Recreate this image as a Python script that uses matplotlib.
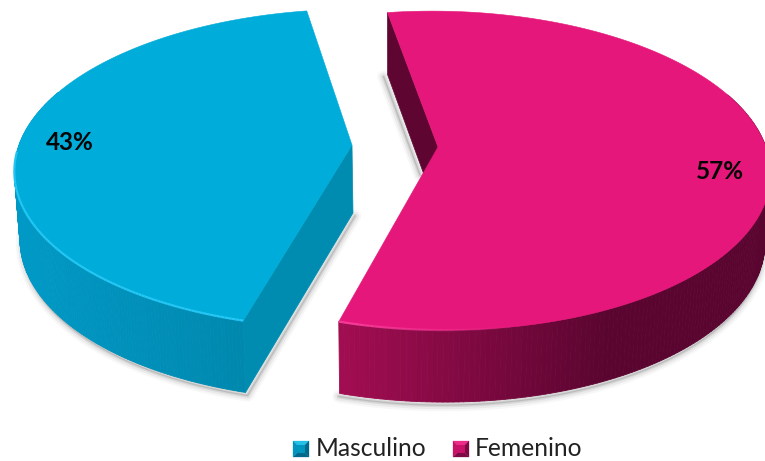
import numpy as np
import matplotlib
matplotlib.use("Agg")
import matplotlib.pyplot as plt
from matplotlib.patches import Polygon, Rectangle
from matplotlib.collections import PolyCollection, LineCollection
from matplotlib.colors import to_rgb

categories = ["Masculino", "Femenino"]
shares = [43, 57]
value_labels = ["43%", "57%"]

plt.rcParams["font.family"] = ["Lato", "DejaVu Sans"]
W, H = 765, 461
fig = plt.figure(figsize=(W / 100, H / 100), dpi=100)
ax = fig.add_axes([0, 0, 1, 1])
ax.set_xlim(0, W)
ax.set_ylim(H, 0)
ax.axis("off")

# projection of the tilted pie
XC, P = 393.0, 0.148
START_F, START_M = -9.0, -10.0
def project(theta, ox, ay, r):
    t = np.radians(theta)
    x, y = np.sin(t), -np.cos(t)
    w = 1 - P * y
    return XC + (ox + r * x) / w, ay + 156 * y / w, y
def drop(x, y, yw):
    return XC + (x - XC) * 0.985, y + 67 + 5 * yw
def mix(a, b, f):
    a, b = np.array(to_rgb(a)), np.array(to_rgb(b))
    return tuple(a + (b - a) * np.clip(f, 0, 1))

def shadow(pts, dx, dy):
    pts = np.asarray(pts) + [dx, dy]
    for lw, a in [(9, .03), (6, .05), (3, .08), (1, .12)]:
        ax.plot(pts[:, 0], pts[:, 1], color="black", alpha=a, lw=lw, zorder=1, solid_capstyle="round")

def wedge(t0, t1, ox, ay, r, top, rim, side_l, side_r, xl, xr, wall, back_wall, rim_fade):
    th = np.linspace(t0, t1, 260)
    x, y, yw = project(th, ox, ay, r)
    bx, by = drop(x, y, yw)
    apex = np.array([XC + ox, ay])
    mask = yw > -0.35
    b0 = drop(x[0], y[0], yw[0])
    if back_wall:
        shadow(np.c_[bx[mask], by[mask]], -1, 3)
        shadow(np.array([b0, (apex[0] - 14, apex[1] + 26)]), -4, 2)
    else:
        shadow(np.vstack([np.c_[bx[mask], by[mask]][::-1], [b0], [(apex[0] + 1, apex[1] + 68)]]), 2, 3)
    # walls of the cut
    if back_wall:
        ax.add_patch(Polygon([(x[0], y[0]), b0, (apex[0], apex[1] + 66), apex], fc=wall, ec=wall, lw=.5, zorder=2))
    else:
        ax.add_patch(Polygon([apex, (apex[0] + 1, apex[1] + 68), b0, (x[0], y[0])], fc=wall, ec=wall, lw=.5, zorder=4))
    # outer side with a horizontal gradient
    quads, cols = [], []
    for i in range(len(th) - 1):
        if yw[i] < -0.35 and yw[i + 1] < -0.35:
            continue
        quads.append([(x[i], y[i]), (x[i + 1], y[i + 1]), (bx[i + 1], by[i + 1]), (bx[i], by[i])])
        cols.append(mix(side_l, side_r, (x[i] - xl) / (xr - xl)))
    ax.add_collection(PolyCollection(quads, facecolors=cols, edgecolors=cols, linewidths=.6, zorder=3))
    # top face
    ax.add_patch(Polygon(np.vstack([apex, np.c_[x, y]]), closed=True, fc=top, ec=top, lw=.4, zorder=5))
    # light rim on the front edge
    segs, rc = [], []
    rgb = to_rgb(rim)
    for i in range(len(th) - 1):
        if yw[i] > 0.05:
            segs.append([(x[i], y[i]), (x[i + 1], y[i + 1])])
            rc.append(rgb + (float(np.clip(rim_fade(x[i]), 0, 1)),))
    ax.add_collection(LineCollection(segs, colors=rc, linewidths=1.6, zorder=6))

total = sum(shares)
span_f = 360 * shares[1] / total
span_m = 360 * shares[0] / total

wedge(START_M + span_f, START_M + span_f + span_m, -41, 145, 333, "#00ACD9", "#25C8F5",
      "#0099C6", "#0088AE", 18, 246, "#008CB0", False, lambda v: 1.0)
wedge(START_F, START_F + span_f, 45, 147, 328, "#E6177A", "#F53A98",
      "#A30D52", "#5A0530", 338, 610, "#5E0631", True, lambda v: 1 - (v - 360) / 160)

ax.text(70, 142, value_labels[0], ha="center", va="center", fontsize=17.5, fontweight="bold", color="#050505", zorder=8)
ax.text(720, 171, value_labels[1], ha="center", va="center", fontsize=17.5, fontweight="bold", color="#050505", zorder=8)

# legend with bevelled keys
def key(x0, y0, s, base, light, dark):
    c = (x0 + s / 2, y0 + s / 2)
    tl, tr, br, bl = (x0, y0), (x0 + s, y0), (x0 + s, y0 + s), (x0, y0 + s)
    for tri, col in [((tl, tr), light), ((tr, br), dark), ((br, bl), dark), ((bl, tl), base)]:
        ax.add_patch(Polygon([tri[0], tri[1], c], fc=col, ec=col, lw=.2, zorder=8))
    ax.add_patch(Rectangle((x0 + 4, y0 + 4), s - 8, s - 8, fc=base, ec="none", zorder=9))

key(293, 441, 16, "#0095BF", "#25C0E8", "#00688A")
key(453, 441, 16, "#C8126A", "#EE2A8A", "#7D0A45")
ax.text(316, 456, categories[0], ha="left", va="baseline", fontsize=17.7, color="#222222")
ax.text(475, 456, categories[1], ha="left", va="baseline", fontsize=17.7, color="#222222")

fig.savefig("out.png", dpi=100, facecolor="white")
